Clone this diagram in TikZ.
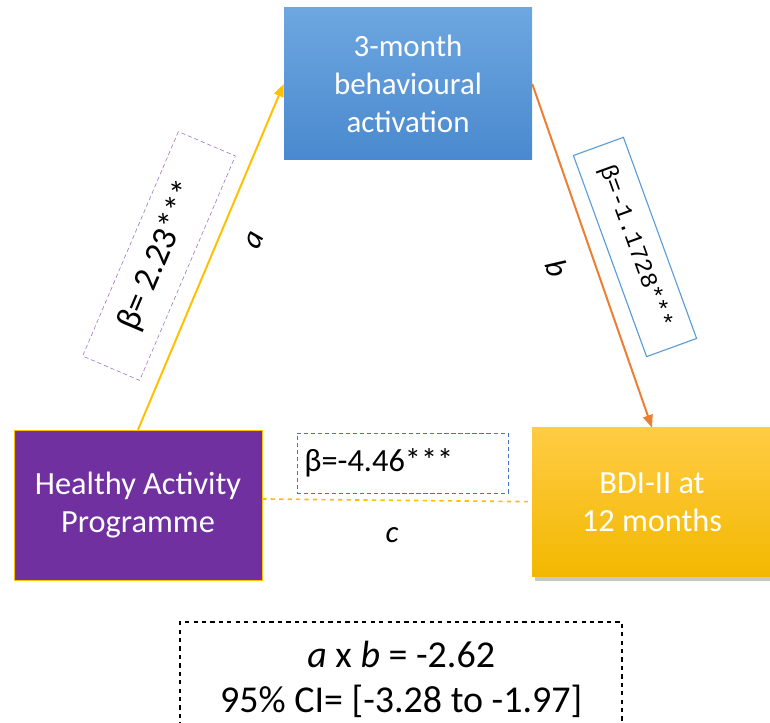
\documentclass[tikz,border=0pt]{standalone}
\usepackage{fontspec}
\setmainfont{Carlito}
\newfontfamily\monofont{Liberation Mono}
\usetikzlibrary{arrows.meta,shadows}

\definecolor{hapurple}{HTML}{7030A0}
\definecolor{baltop}{HTML}{6DA7E0}
\definecolor{balbot}{HTML}{4A89CF}
\definecolor{bditop}{HTML}{FFCC44}
\definecolor{bdibot}{HTML}{F2B800}
\definecolor{linka}{HTML}{FFC000}
\definecolor{linkb}{HTML}{ED7D31}
\definecolor{boxblue}{HTML}{5B9BD5}
\definecolor{dashblue}{HTML}{4472C4}

\tikzstyle{block} = [rectangle, text=white, align=center,
    minimum width=6.2cm, minimum height=3.8cm, font=\fontsize{23}{27}\selectfont]
\tikzstyle{coef} = [rectangle, font=\fontsize{23}{26}\selectfont]
\tikzstyle{link} = [line width=1.4pt, -{Triangle[length=9pt,width=7pt]}]
\tikzstyle{pathname} = [font=\fontsize{22}{26}\selectfont\itshape]

\begin{document}
\begin{tikzpicture}[auto]
    \useasboundingbox (0,0) rectangle (19.25,18.075);

    % Place nodes
    \node [block, top color=baltop, bottom color=balbot, font=\fontsize{22}{27}\selectfont] (activation) at (10.2,15.975)
        {3-month\\behavioural\\activation};
    \node [block, fill=hapurple, draw=linka, thin, minimum height=3.75cm] (programme) at (3.45,5.45)
        {Healthy Activity\\Programme};
    \node [block, top color=bditop, bottom color=bdibot, minimum width=6cm, minimum height=3.725cm,
        drop shadow={opacity=0.45, shadow xshift=0.08cm, shadow yshift=-0.1cm}] (bdi) at (16.3,5.5125)
        {BDI-II at\\12 months};

    % Paths
    \draw [link, linka] (programme.north) -- (activation.west);
    \draw [link, linkb] (activation.east) -- (bdi.north);
    \draw [linka, line width=1.2pt, dashed] ([yshift=0.15cm] programme.east) -- ([yshift=0.02cm] bdi.west);

    % Coefficients
    \node [coef, draw=hapurple!70, densely dashed, minimum width=6.1cm, minimum height=1.55cm,
        font=\fontsize{25}{28}\selectfont, rotate=66.9] (coefa) at (3.975,11.675) {β= 2.23***};
    \node [coef, draw=boxblue, thick, minimum width=5.35cm, minimum height=1.33cm,
        font=\monofont\fontsize{17}{20}\selectfont, rotate=-70] (coefb) at (15.875,11.9) {β=-1.1728***};
    \node [coef, draw=dashblue, densely dashed, minimum width=5.275cm, minimum height=1.5cm,
        text width=4.9cm, align=left] (coefc) at (10.06,6.5) {β=-4.46***};

    \node [pathname, rotate=66.9] (namea) at (6.375,12.075) {a};
    \node [pathname, rotate=-70] (nameb) at (13.925,11.375) {b};
    \node [pathname] (namec) at (9.8,4.7) {c};

    % Indirect effect
    \draw [dashed, thick] (4.5,-0.3) -- (4.5,2.525) -- (15.55,2.525) -- (15.55,-0.3);
    \node [font=\fontsize{27}{32}\selectfont, align=center] (indirect) at (10.03,1.1)
        {\textit{a} x \textit{b} = -2.62\\95\% CI= [-3.28 to -1.97]};
\end{tikzpicture}
\end{document}
